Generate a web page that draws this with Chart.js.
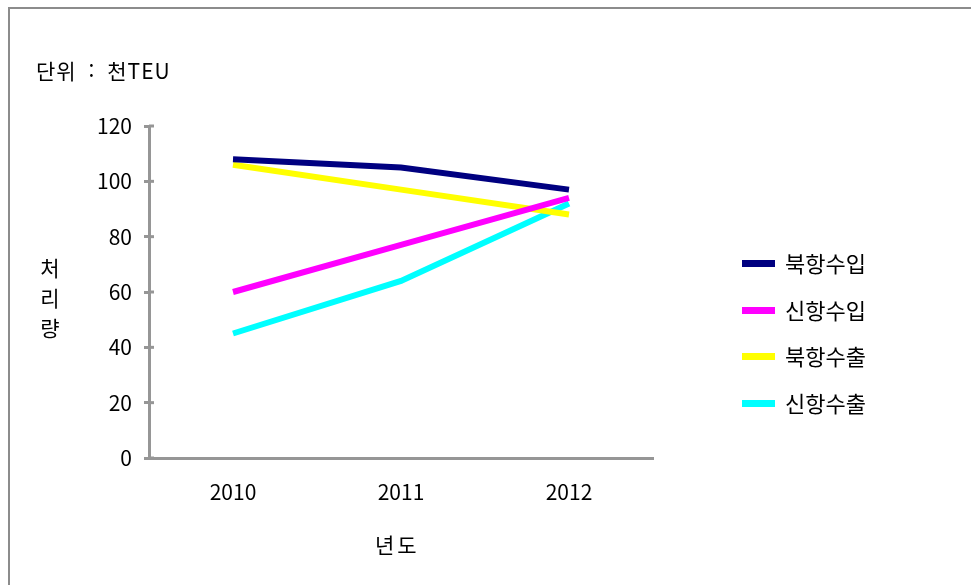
<!DOCTYPE html>
<html lang="ko">
<head>
<meta charset="utf-8">
<title>처리량</title>
<script src="https://cdn.jsdelivr.net/npm/chart.js@4.4.1/dist/chart.umd.min.js"></script>
<style>
    body { margin: 0; background: #fff; font-family: "Noto Sans CJK KR", "Noto Sans", sans-serif; }
    #wrap { position: relative; width: 971px; height: 585px; overflow: hidden; }
    #frame { position: absolute; left: 8px; top: 7px; width: 1000px; height: 700px; border-left: 2px solid #8c8c8c; border-top: 2px solid #8c8c8c; }
    canvas { position: absolute; left: 0; top: 0; }
    .txt { position: absolute; color: #000; font-size: 21px; white-space: nowrap; }
    #unit { left: 36px; top: 55px; letter-spacing: 1px; word-spacing: 5px; }
    #ytitle { left: 39px; top: 252px; line-height: 30px; width: 22px; text-align: center; }
    #xtitle { left: 375px; top: 529px; letter-spacing: 3px; }
    #legend { position: absolute; left: 742px; top: 245px; }
    .item { position: relative; height: 46.5px; width: 200px; }
    .sw { position: absolute; left: 0; top: 15px; width: 33px; height: 7px; }
    .lab { position: absolute; left: 43px; top: 1px; font-size: 22px; white-space: nowrap; }
</style>
</head>
<body>
<div id="wrap">
    <div id="frame"></div>
    <canvas id="grafico" width="971" height="585"></canvas>
    <div class="txt" id="unit">단위 : 천TEU</div>
    <div class="txt" id="ytitle">처<br>리<br>량</div>
    <div class="txt" id="xtitle">년도</div>
    <div id="legend"></div>
</div>
<script>
// 연도별 처리량 (천TEU)
const anos = ['2010', '2011', '2012'];
const nomes = ['북항수입', '신항수입', '북항수출', '신항수출'];
const cores = ['#000080', '#ff00ff', '#ffff00', '#00ffff'];
const bukhangSuip = [108, 105, 97];
const sinhangSuip = [60, 77, 94];
const bukhangSuchul = [106, 97, 88];
const sinhangSuchul = [45, 64, 92];
const series = [bukhangSuip, sinhangSuip, bukhangSuchul, sinhangSuchul];
const yTicks = [0, 20, 40, 60, 80, 100, 120];

const fonte = { family: '"Noto Sans CJK KR", "Noto Sans", sans-serif', size: 21 };

// tick curto para dentro do eixo y
const ticksInternos = {
    id: 'ticksInternos',
    afterDatasetsDraw(chart) {
        const y = chart.scales.y;
        const ctx = chart.ctx;
        ctx.save();
        ctx.strokeStyle = '#969696';
        ctx.lineWidth = 3;
        y.ticks.forEach(t => {
            const py = y.getPixelForValue(t.value);
            ctx.beginPath();
            ctx.moveTo(y.right, py);
            ctx.lineTo(y.right + 5, py);
            ctx.stroke();
        });
        ctx.restore();
    }
};

const ctx = document.getElementById('grafico').getContext('2d');
new Chart(ctx, {
    type: 'line',
    data: {
        labels: anos,
        datasets: series.map((dados, i) => ({
            label: nomes[i],
            data: dados,
            borderColor: cores[i],
            backgroundColor: cores[i],
            borderWidth: 6,
            pointRadius: 0,
            tension: 0,
            fill: false
        }))
    },
    options: {
        responsive: false,
        animation: false,
        layout: { padding: { left: 0, top: 126, right: 318, bottom: 0 } },
        plugins: { legend: { display: false }, tooltip: { enabled: false } },
        scales: {
            x: {
                offset: true,
                grid: { display: false },
                border: { display: true, color: '#969696', width: 3 },
                ticks: { color: '#000', font: fonte, padding: 13, maxRotation: 0 },
                afterFit(scale) { scale.height = 127; }
            },
            y: {
                min: 0,
                max: 120,
                afterBuildTicks(scale) { scale.ticks = yTicks.map(v => ({ value: v })); },
                grid: { drawOnChartArea: false, color: '#969696', lineWidth: 3, tickLength: 5 },
                border: { display: true, color: '#969696', width: 3 },
                ticks: { color: '#000', font: fonte, padding: 12 },
                afterFit(scale) { scale.width = 149; }
            }
        }
    },
    plugins: [ticksInternos]
});

// legenda
const legenda = document.getElementById('legend');
nomes.forEach((nome, i) => {
    legenda.innerHTML += `<div class="item"><div class="sw" style="background:${cores[i]}"></div><div class="lab">${nome}</div></div>`;
});
</script>
</body>
</html>
